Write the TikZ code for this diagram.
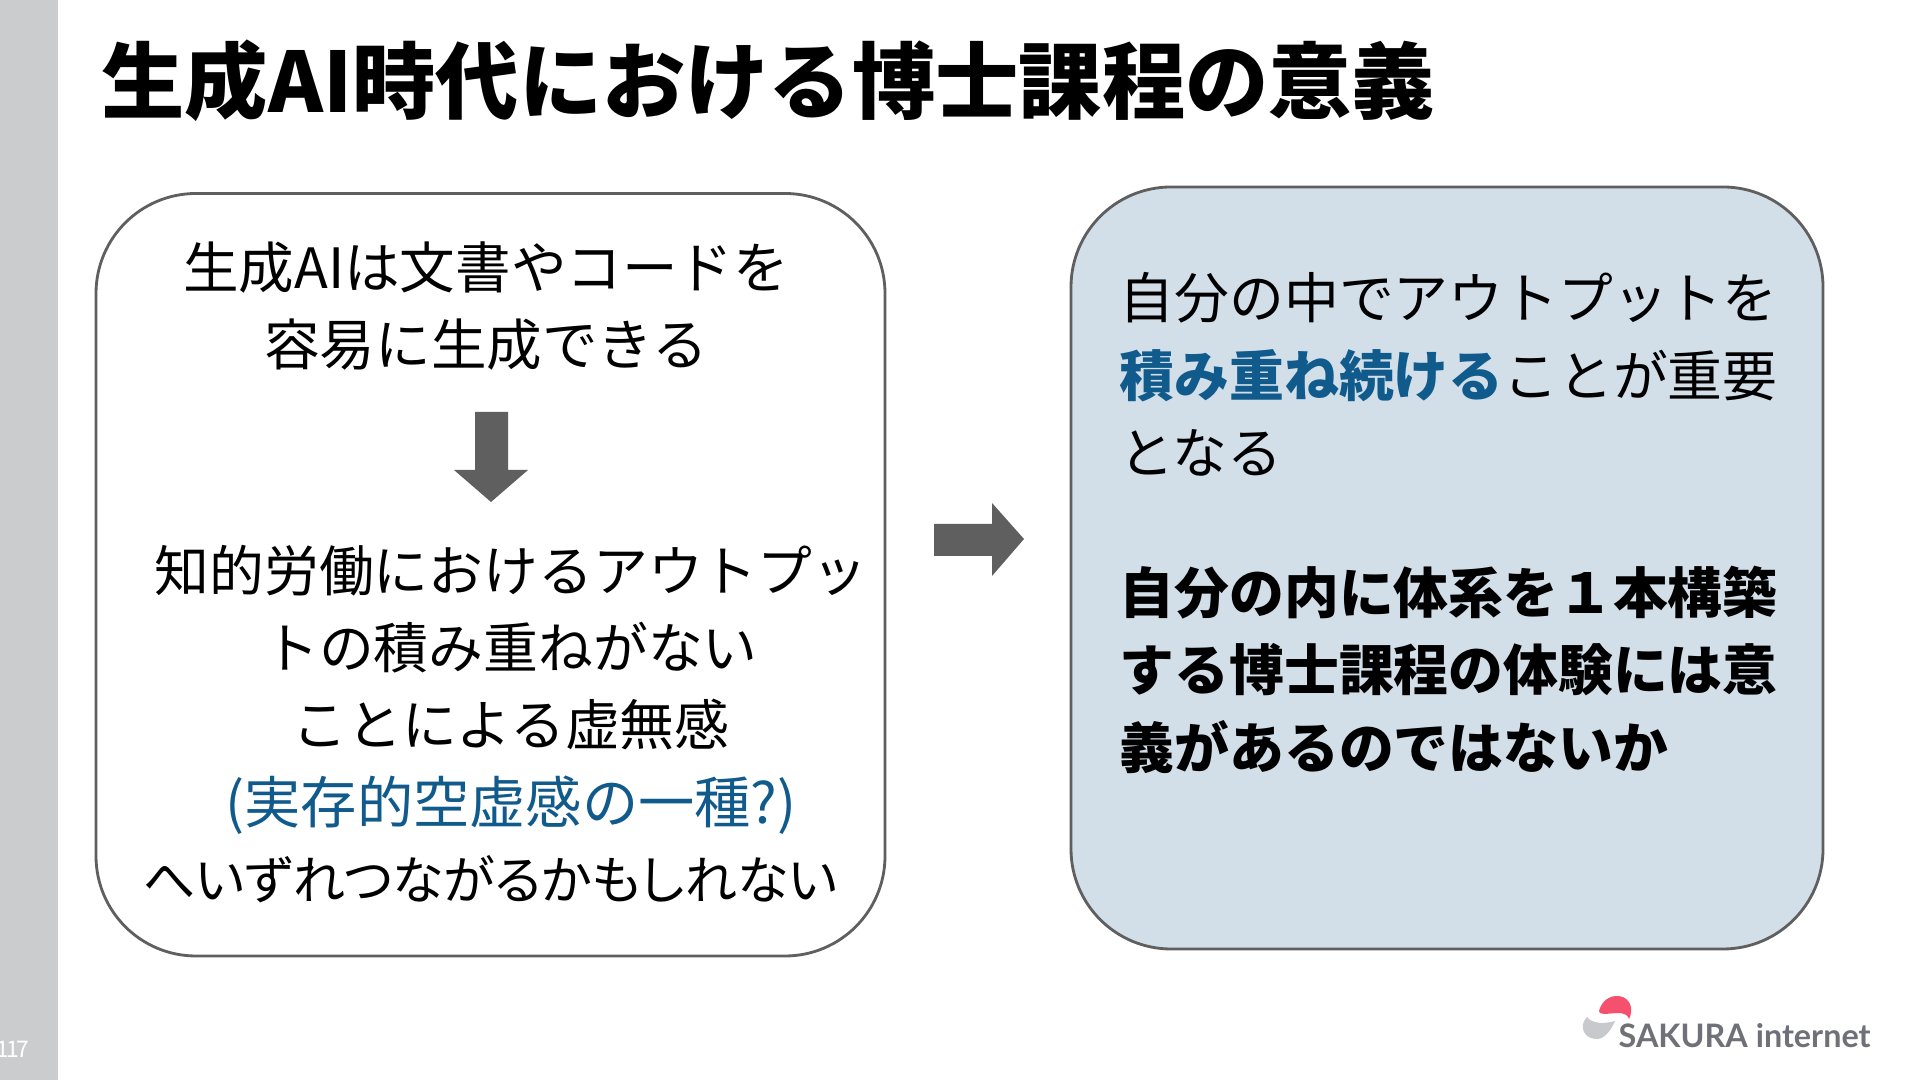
\documentclass[tikz,border=0pt]{standalone}
\usepackage{fontspec}
\setmainfont{Noto Sans CJK JP}
\newfontfamily\logofont{Lato}
\usetikzlibrary{positioning}
\definecolor{barG}{HTML}{CBCCCE}
\definecolor{lineG}{HTML}{5F5F5F}
\definecolor{fillB}{HTML}{D2DFE9}
\definecolor{textB}{HTML}{105A8C}
\definecolor{logoP}{HTML}{F5506E}
\definecolor{logoG}{HTML}{C8C9CC}
\definecolor{logoT}{HTML}{6F7078}
\tikzset{
  bodytext/.style={inner sep=0pt,font=\fontsize{15.6}{22}\selectfont},
  panel/.style={lineG,line width=0.8pt,rounded corners=1cm},
  bigarrow/.style={fill=lineG,draw=none}
}
\begin{document}
\begin{tikzpicture}
  \useasboundingbox (0,0) rectangle (19.2,10.8);
  \fill[white] (0,0) rectangle (19.2,10.8);
  \fill[barG] (0,0) rectangle (0.575,10.8);
  \node[white,anchor=east,inner sep=0pt,font=\fontsize{6.5}{8}\selectfont] (pageno) at (0.30,0.31) {1\kern-0.8pt 1\kern-0.8pt 7};
  \node[anchor=west,inner sep=0pt,font=\fontsize{23.7}{28}\selectfont\bfseries] (title) at (1.01,9.99) {生成AI時代における博士課程の意義};
  % panels
  \draw[panel,fill=white] (0.96,1.24) rectangle (8.85,8.865);
  \draw[panel,fill=fillB] (10.71,1.31) rectangle (18.23,8.93);
  % left panel
  \node[bodytext,align=center,font=\fontsize{15.8}{22}\selectfont] (genai) at (4.86,7.74) {生成AIは文書やコードを\\容易に生成できる};
  \node[bodytext,align=center] (output) at (5.11,3.905) {知的労働におけるアウトプッ\\トの積み重ねがない\\ことによる虚無感\\\textcolor{textB}{\fontsize{16}{22}\selectfont(実存的空虚感の一種?)}};
  \node[bodytext,font=\fontsize{14.8}{22}\selectfont] (lead) at (4.9,2.01) {\addfontfeature{RawFeature=+palt}へいずれつながるかもしれない};
  \fill[bigarrow] (4.75,6.68) -- (5.08,6.68) -- (5.08,6.10) -- (5.28,6.10) -- (4.91,5.78) -- (4.54,6.10) -- (4.75,6.10) -- cycle;
  % middle arrow
  \fill[bigarrow] (9.34,5.24) -- (9.92,5.24) -- (9.92,5.04) -- (10.24,5.41) -- (9.92,5.77) -- (9.92,5.56) -- (9.34,5.56) -- cycle;
  % right panel
  \node[bodytext,anchor=north west,align=left] (pile) at (11.19,8.08) {自分の中でアウトプットを\\\textcolor{textB}{\bfseries 積み重ね続ける}ことが重要\\となる};
  \node[bodytext,anchor=north west,align=left,font=\fontsize{15.6}{22}\selectfont\bfseries] (system) at (11.19,5.145) {自分の内に体系を１本構築\\する博士課程の体験には意\\義があるのではないか};
  % logo
  \fill[logoP] (15.99,0.69) .. controls (16.02,0.80) and (16.10,0.84) .. (16.17,0.84) .. controls (16.27,0.84) and (16.32,0.76) .. (16.31,0.68) .. controls (16.31,0.65) and (16.30,0.63) .. (16.29,0.61) .. controls (16.28,0.65) and (16.24,0.67) .. (16.18,0.67) .. controls (16.11,0.67) and (16.04,0.65) .. (16.00,0.67) -- cycle;
  \fill[logoG] (15.87,0.63) .. controls (15.82,0.58) and (15.82,0.52) .. (15.84,0.48) .. controls (15.87,0.42) and (15.93,0.41) .. (15.98,0.41) .. controls (16.06,0.42) and (16.12,0.52) .. (16.15,0.59) .. controls (16.05,0.56) and (15.92,0.56) .. (15.87,0.63) -- cycle;
  \node[logoT,anchor=base west,inner sep=0pt,font=\logofont\bfseries\fontsize{9.2}{10}\selectfont] (logotext) at (16.18,0.32) {SAKURA internet};
\end{tikzpicture}
\end{document}
